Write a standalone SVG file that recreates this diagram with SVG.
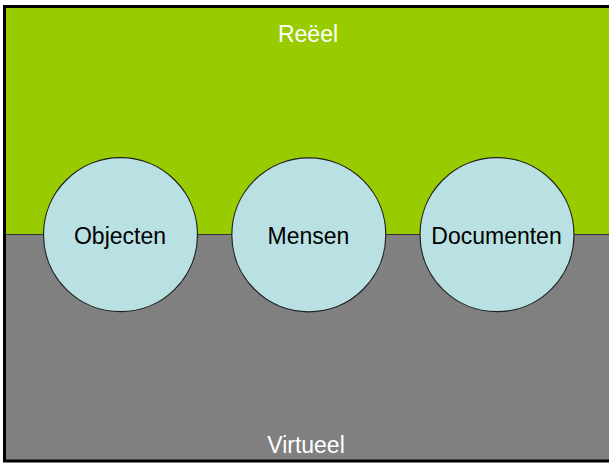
<svg xmlns="http://www.w3.org/2000/svg" width="609" height="463" viewBox="0 0 609 463">
<style>
.node circle{fill:#B9E0E3;stroke:#222;stroke-width:1.2}
text{font-family:"Liberation Sans",Arial,sans-serif;font-size:23px;text-anchor:middle}
.lbl{fill:#000}
.area{fill:#fff}
</style>
<g id="background">
<rect x="0" y="0" width="609" height="463" fill="#fff"/>
<rect x="4.5" y="6.5" width="620" height="228" fill="#99CC00"/>
<rect x="4.5" y="234.5" width="620" height="226" fill="#808080"/>
<line x1="4.5" y1="234.5" x2="609" y2="234.5" stroke="#333" stroke-width="1"/>
<rect x="4.5" y="6.5" width="620" height="454.5" fill="none" stroke="#000" stroke-width="3"/>
<text class="area" x="308" y="42">Reëel</text>
<text class="area" x="306" y="453">Virtueel</text>
</g>
<g id="connectors"></g>
<g id="objecten" class="node">
<circle cx="120.5" cy="234.7" r="77"/>
<text class="lbl" x="120" y="244">Objecten</text>
</g>
<g id="mensen" class="node">
<circle cx="308.8" cy="234.8" r="77"/>
<text class="lbl" x="308.5" y="244">Mensen</text>
</g>
<g id="documenten" class="node">
<circle cx="497" cy="234.7" r="77"/>
<text class="lbl" x="496.5" y="244">Documenten</text>
</g>
</svg>
